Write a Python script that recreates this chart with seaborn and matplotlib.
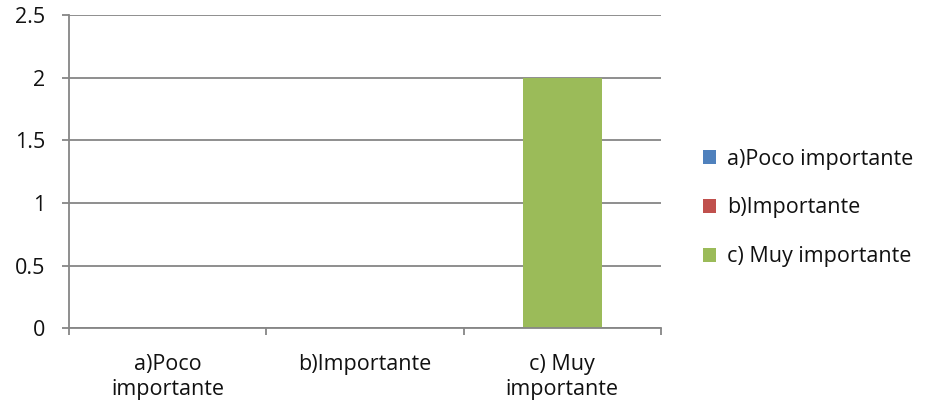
import pandas as pd
import seaborn as sns
import matplotlib.pyplot as plt
from matplotlib.patches import Patch

categories = ['a)Poco importante', 'b)Importante', 'c) Muy importante']
tick_labels = ['a)Poco\nimportante', 'b)Importante', 'c) Muy\nimportante']
values = [0, 0, 2]
colors = ['#4F81BD', '#C0504D', '#9BBB59']

df = pd.DataFrame({'categoria': categories, 'valor': values})

sns.set_style('white')
plt.rcParams['font.family'] = ['Open Sans', 'DejaVu Sans']
plt.rcParams['text.color'] = '#111111'
grid_color = '#868686'
fs = 15.5

fig = plt.figure(figsize=(9.33, 4.12), dpi=100)
ax = fig.add_axes([69 / 933, 1 - 328 / 412, (661 - 69) / 933, (328 - 15.5) / 412])

sns.barplot(data=df, x='categoria', y='valor', hue='categoria', hue_order=categories,
            palette=colors, width=0.4, dodge=False, legend=False, ax=ax,
            saturation=1, linewidth=0)

ax.set_ylim(0, 2.5)
ax.set_xlim(-0.5, 2.5)
ax.set_yticks([0, 0.5, 1, 1.5, 2, 2.5])
ax.set_yticklabels(['0', '0.5', '1', '1.5', '2', '2.5'])
ax.set_xticks([0, 1, 2])
ax.set_xticklabels(tick_labels)
ax.set_xticks([-0.5, 0.5, 1.5, 2.5], minor=True)
ax.set_xlabel('')
ax.set_ylabel('')

ax.yaxis.grid(True, color=grid_color, linewidth=1.3)
ax.set_axisbelow(True)
for side in ['top', 'right']:
    ax.spines[side].set_visible(False)
for side in ['left', 'bottom']:
    ax.spines[side].set_color(grid_color)
    ax.spines[side].set_linewidth(1.3)

ax.tick_params(axis='y', which='major', direction='out', length=5, width=1.3,
               color=grid_color, pad=12, labelsize=fs, left=True, labelcolor='#111111')
ax.tick_params(axis='x', which='major', length=0, pad=19, labelsize=fs, labelcolor='#111111')
ax.tick_params(axis='x', which='minor', direction='out', length=5, width=1.3,
               color=grid_color, bottom=True)
for lab in ax.get_xticklabels():
    lab.set_linespacing(1.2)

handles = [Patch(facecolor=c, edgecolor='none', label=l) for c, l in zip(colors, categories)]
fig.legend(handles=handles, loc='center left', bbox_to_anchor=(703 / 933, 1 - 208 / 412),
           frameon=False, fontsize=fs, handlelength=0.6, handleheight=0.6,
           handletextpad=0.5, labelspacing=1.3, borderpad=0, borderaxespad=0)

fig.savefig('out.png', dpi=100)
